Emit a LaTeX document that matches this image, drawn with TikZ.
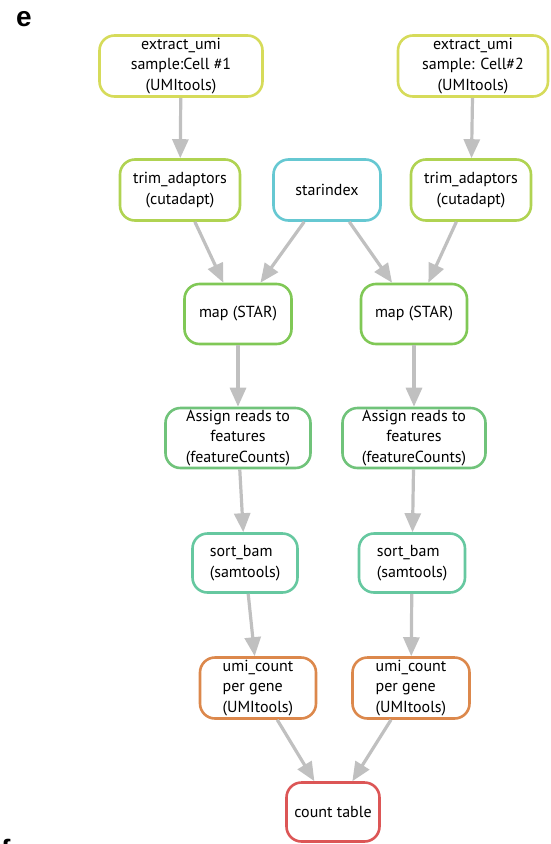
\documentclass[tikz,border=0pt]{standalone}
\usepackage{fontspec}
\setmainfont{PT Sans}
\newfontfamily\labelfont{Liberation Sans}
\usetikzlibrary{arrows.meta,positioning}
\definecolor{fext}{RGB}{214,219,90}
\definecolor{ftrim}{RGB}{176,211,82}
\definecolor{fstar}{RGB}{102,200,210}
\definecolor{fmap}{RGB}{128,200,86}
\definecolor{fasg}{RGB}{112,195,122}
\definecolor{fsort}{RGB}{102,200,160}
\definecolor{fumi}{RGB}{220,136,76}
\definecolor{fcnt}{RGB}{220,86,86}
\definecolor{arr}{RGB}{192,192,192}
\tikzset{
  rule/.style={
    draw, line width=2.6pt, rounded corners=15pt, fill=white,
    align=center, inner sep=2pt,
    font=\fontsize{16}{20.5}\selectfont
  },
  flow/.style={
    draw=arr, line width=3.2pt,
    -{Triangle[length=19pt,width=16pt]}
  },
  panel/.style={font=\labelfont\bfseries\fontsize{28}{28}\selectfont, inner sep=0pt}
}

\begin{document}
\begin{tikzpicture}[x=1pt,y=-1pt]
\useasboundingbox (0,0) rectangle (551,844);
\node[panel] (e) at (24,19) {e};
\node[panel,anchor=base west] (f) at (1,859) {f};
% top row
\node[rule, draw=fext, minimum width=163pt, minimum height=61pt] (ext1) at (181,66) {extract\_umi\\sample:Cell \#1\\(UMItools)};
\node[rule, draw=fext, minimum width=150pt, minimum height=61pt] (ext2) at (473,66) {extract\_umi\\sample: Cell\#2\\(UMItools)};
\node[rule, draw=ftrim, minimum width=120pt, minimum height=61pt] (trim1) at (180,190) {trim\_adaptors\\(cutadapt)};
\node[rule, draw=fstar, minimum width=107pt, minimum height=61pt] (star) at (327,190) {starindex};
\node[rule, draw=ftrim, minimum width=120pt, minimum height=61pt] (trim2) at (471,190) {trim\_adaptors\\(cutadapt)};
% per cell
\node[rule, draw=fmap, minimum width=107pt, minimum height=60pt] (map1) at (238,314) {map (STAR)};
\node[rule, draw=fmap, minimum width=106pt, minimum height=60pt] (map2) at (414,314) {map (STAR)};
\node[rule, draw=fasg, minimum width=145pt, minimum height=60pt] (asg1) at (238,438) {Assign reads to\\features\\(featureCounts)};
\node[rule, draw=fasg, minimum width=143pt, minimum height=60pt] (asg2) at (414,438) {Assign reads to\\features\\(featureCounts)};
\node[rule, draw=fsort, align=left, minimum width=105pt, minimum height=59pt] (sort1) at (245,563) {sort\_bam\\(samtools)};
\node[rule, draw=fsort, align=left, minimum width=106pt, minimum height=59pt] (sort2) at (412,563) {sort\_bam\\(samtools)};
\node[rule, draw=fumi, align=left, minimum width=116pt, minimum height=61pt] (umi1) at (258,688) {umi\_count\\per gene\\(UMItools)};
\node[rule, draw=fumi, align=left, minimum width=117pt, minimum height=61pt] (umi2) at (411,688) {umi\_count\\per gene\\(UMItools)};
\node[rule, draw=fcnt, minimum width=93pt, minimum height=59pt] (cnt) at (333,812) {count table};
% edges
\foreach \a/\b in {ext1/trim1, ext2/trim2, trim1/map1, star/map1, star/map2, trim2/map2,
  map1/asg1, map2/asg2, asg1/sort1, asg2/sort2, sort1/umi1, sort2/umi2, umi1/cnt, umi2/cnt}
  \draw[flow] (\a) -- (\b);
\end{tikzpicture}
\end{document}
